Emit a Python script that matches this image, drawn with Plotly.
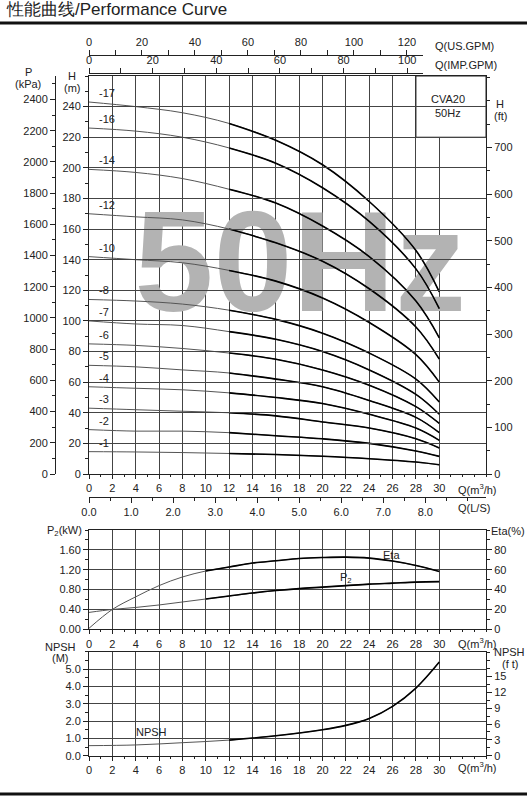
import plotly.graph_objects as go

# flow points (m3/h) and head curves (m) for each stage count
q = [0, 4, 8, 12, 16, 20, 24, 28, 30]
stages = ["-17", "-16", "-14", "-12", "-10", "-8", "-7", "-6", "-5", "-4", "-3", "-2", "-1"]
heads = [
    [243, 240, 236, 229, 218, 202, 178, 146, 119],
    [226, 224, 220, 213, 203, 187, 165, 134, 108],
    [199, 197, 193, 186, 177, 162, 142, 113, 89],
    [170, 168, 166, 160, 151, 139, 121, 96, 75],
    [142, 140, 138, 133, 126, 115, 99, 78, 60],
    [114, 113, 111, 107, 101, 92, 79, 62, 47],
    [100, 98, 97, 93, 88, 80, 68, 52, 39],
    [85, 84, 82, 79, 75, 68, 58, 44, 33],
    [71, 70, 68, 66, 62, 57, 48, 37, 27],
    [57, 56, 55, 53, 50, 46, 39, 30, 22],
    [43, 42, 41, 40, 38, 34, 30, 23, 17],
    [29, 28, 28, 27, 25, 23, 20, 15, 11.5],
    [14.6, 14.4, 14.0, 13.4, 12.7, 11.6, 10.0, 7.8, 6.0],
]

# power / efficiency
q2 = [0, 2, 4, 6, 8, 10, 12, 14, 16, 18, 20, 22, 24, 26, 28, 30]
eta = [1, 20, 32.7, 44, 52.7, 58.7, 62.7, 66.7, 69, 71.3, 72.3, 72.7, 71.7, 68.7, 64.3, 58.3]
p2 = [0.34, 0.40, 0.44, 0.49, 0.55, 0.61, 0.67, 0.73, 0.78, 0.82, 0.85, 0.88, 0.91, 0.93, 0.95, 0.96]

# NPSH
q3 = [0, 4, 8, 12, 16, 20, 22, 24, 26, 28, 30]
npsh = [0.58, 0.62, 0.75, 0.9, 1.15, 1.5, 1.75, 2.15, 2.85, 3.9, 5.4]

qticks = list(range(0, 31, 2))

FONT = "Liberation Sans, Arial, sans-serif"
X0, X1 = 89 / 527, 486 / 527
def py(p):
    return 1 - p / 800

fig = go.Figure()

# watermark under the curves
fig.add_trace(go.Scatter(x=[18.1], y=[130], mode="text", text=["<b>50Hz</b>"],
                         textfont=dict(size=142, color="#b3b3b3", family=FONT),
                         showlegend=False, hoverinfo="skip"))

def split(xs, ys, start):
    return [x for x in xs if x >= start], [y for x, y in zip(xs, ys) if x >= start]

for name, h in zip(stages, heads):
    fig.add_trace(go.Scatter(x=q, y=h, mode="lines", line=dict(color="#555", width=1, shape="spline"),
                             showlegend=False))
    tx, ty = split(q, h, 12)
    fig.add_trace(go.Scatter(x=tx, y=ty, mode="lines", line=dict(color="#000", width=1.6, shape="spline"),
                             showlegend=False))
    fig.add_annotation(x=0.7, y=h[0], text=name, showarrow=False, xanchor="left", yanchor="bottom",
                       yshift=1, font=dict(size=11, color="#222", family=FONT))

for ys, yax in [(eta, "y5"), (p2, "y4")]:
    fig.add_trace(go.Scatter(x=q2, y=ys, xaxis="x5", yaxis=yax, mode="lines",
                             line=dict(color="#555", width=1, shape="spline"), showlegend=False))
    tx, ty = split(q2, ys, 10)
    fig.add_trace(go.Scatter(x=tx, y=ty, xaxis="x5", yaxis=yax, mode="lines",
                             line=dict(color="#000", width=1.6, shape="spline"), showlegend=False))

fig.add_trace(go.Scatter(x=q3, y=npsh, xaxis="x6", yaxis="y6", mode="lines",
                         line=dict(color="#555", width=1, shape="spline"), showlegend=False))
tx, ty = split(q3, npsh, 12)
fig.add_trace(go.Scatter(x=tx, y=ty, xaxis="x6", yaxis="y6", mode="lines",
                         line=dict(color="#000", width=1.6, shape="spline"), showlegend=False))

# empty traces so the secondary scales get drawn
for xa, ya in [("x", "y2"), ("x", "y3"), ("x2", "y"), ("x3", "y"), ("x4", "y"), ("x5", "y5"), ("x6", "y7")]:
    fig.add_trace(go.Scatter(x=[0], y=[0], xaxis=xa, yaxis=ya, mode="markers",
                             marker=dict(opacity=0), showlegend=False, hoverinfo="skip"))

tick = dict(tickfont=dict(size=11, color="#222", family=FONT), linecolor="#222", tickcolor="#222",
            zeroline=False)
grid = dict(showgrid=True, gridcolor="#444", gridwidth=1)

main_dom = [py(474), py(76)]
fig.update_layout(
    width=527, height=800, margin=dict(l=0, r=0, t=0, b=0, autoexpand=False),
    plot_bgcolor="rgba(0,0,0,0)", paper_bgcolor="white", font=dict(family=FONT, color="#222"),
    xaxis=dict(domain=[X0, X1], range=[0, 34], tickvals=qticks, ticks="outside", ticklen=4,
               minor=dict(dtick=1, ticks="outside", ticklen=2), showline=True, mirror=True,
               anchor="y", **grid, **tick),
    yaxis=dict(domain=main_dom, range=[0, 260], tickvals=list(range(0, 241, 20)), ticks="outside",
               ticklen=5, minor=dict(dtick=10, ticks="outside", ticklen=3), showline=True, mirror=True,
               anchor="x", **grid, **tick),
    yaxis2=dict(overlaying="y", anchor="free", position=55 / 527, range=[0, 260 * 9.81],
                tickvals=list(range(0, 2401, 200)), ticks="outside", ticklen=5,
                minor=dict(dtick=100, ticks="outside", ticklen=3), showline=True, showgrid=False, **tick),
    yaxis3=dict(overlaying="y", side="right", anchor="x", range=[0, 260 * 3.281],
                tickvals=list(range(0, 701, 100)), ticks="outside", ticklen=5,
                minor=dict(dtick=50, ticks="outside", ticklen=3), showgrid=False, **tick),
    xaxis2=dict(domain=[X0, 423 / 527], anchor="free", position=py(55), side="top",
                range=[0, (423 - 89) / 11.667 / 0.2271], tickvals=list(range(0, 121, 20)),
                ticks="outside", ticklen=5, minor=dict(dtick=10, ticks="outside", ticklen=5),
                showline=True, showgrid=False, **tick),
    xaxis3=dict(domain=[X0, 423 / 527], anchor="free", position=py(73), side="top",
                range=[0, (423 - 89) / 11.667 / 0.2728], tickvals=list(range(0, 101, 20)),
                ticks="outside", ticklen=5, minor=dict(dtick=10, ticks="outside", ticklen=5),
                showline=True, showgrid=False, **tick),
    xaxis4=dict(domain=[X0, X1], anchor="free", position=py(497), range=[0, 34 / 3.6],
                tickvals=[0, 1, 2, 3, 4, 5, 6, 7, 8], ticktext=["0.0", "1.0", "2.0", "3.0", "4.0", "5.0", "6.0", "7.0", "8.0"],
                ticks="outside", ticklen=5, minor=dict(dtick=0.5, ticks="outside", ticklen=3),
                showline=True, showgrid=False, **tick),
    xaxis5=dict(domain=[X0, X1], range=[0, 34], tickvals=qticks, anchor="y4", ticks="outside", ticklen=4,
                minor=dict(dtick=1, ticks="outside", ticklen=2), showline=True, mirror=True, **grid, **tick),
    yaxis4=dict(domain=[py(629.3), py(530)], range=[0, 2.0], tickvals=[0, 0.4, 0.8, 1.2, 1.6],
                ticktext=["0.00", "0.40", "0.80", "1.20", "1.60"], anchor="x5", ticks="outside", ticklen=5,
                minor=dict(dtick=0.2, ticks="outside", ticklen=3), showline=True, mirror=True, **grid, **tick),
    yaxis5=dict(overlaying="y4", side="right", anchor="x5", range=[0, 100], tickvals=[0, 20, 40, 60, 80],
                ticks="outside", ticklen=5, minor=dict(dtick=10, ticks="outside", ticklen=3),
                showgrid=False, **tick),
    xaxis6=dict(domain=[X0, X1], range=[0, 34], tickvals=qticks, anchor="y6", ticks="outside", ticklen=4,
                minor=dict(dtick=1, ticks="outside", ticklen=2), showline=True, mirror=True, **grid, **tick),
    yaxis6=dict(domain=[py(755.7), py(651.7)], range=[0, 6], tickvals=[0, 1, 2, 3, 4, 5],
                ticktext=["0.0", "1.0", "2.0", "3.0", "4.0", "5.0"], anchor="x6", ticks="outside", ticklen=5,
                minor=dict(dtick=0.5, ticks="outside", ticklen=3), showline=True, mirror=True, **grid, **tick),
    yaxis7=dict(overlaying="y6", side="right", anchor="x6", range=[0, 6 * 3.281],
                tickvals=[0, 3, 6, 9, 12, 15], ticks="outside", ticklen=5,
                minor=dict(dtick=1.5, ticks="outside", ticklen=3), showgrid=False, **tick),
)

# model box in the top right corner, hides the grid there
fig.add_shape(type="rect", xref="x", yref="y", x0=28, x1=34, y0=220, y1=260, layer="between",
              fillcolor="white", line=dict(color="#222", width=1))
fig.add_shape(type="line", xref="paper", yref="paper", x0=0, x1=1, y0=py(23), y1=py(23),
              line=dict(color="#111", width=3))
fig.add_shape(type="line", xref="paper", yref="paper", x0=0, x1=1, y0=py(794), y1=py(794),
              line=dict(color="#111", width=3))

def note(px, pyy, text, size=11, anchor="center"):
    fig.add_annotation(xref="paper", yref="paper", x=px / 527, y=py(pyy), text=text, showarrow=False,
                       xanchor=anchor, yanchor="middle", font=dict(size=size, color="#222", family=FONT))

note(4, 10, "性能曲线/Performance Curve", 17, "left")
note(433, 46, "Q(US.GPM)", 11, "left")
note(433, 65, "Q(IMP.GPM)", 11, "left")
note(28, 72, "P", 11)
note(28, 84, "(kPa)", 11)
note(72, 76, "H", 11)
note(72, 88, "(m)", 11)
note(448, 99, "CVA20", 11)
note(448, 113, "50Hz", 11)
note(500, 104, "H", 11)
note(500, 116, "(ft)", 11)
note(456, 489, "Q(m<sup>3</sup>/h)", 11, "left")
note(456, 508, "Q(L/S)", 11, "left")
note(64, 531, "P<sub>2</sub>(kW)", 11)
note(527, 531, "Eta(%)", 11, "right")
note(391, 555, "Eta", 11)
note(346, 578, "P<sub>2</sub>", 11)
note(456, 643, "Q(m<sup>3</sup>/h)", 11, "left")
note(60, 647, "NPSH", 11)
note(60, 658, "(M)", 11)
note(527, 652, "NPSH", 11, "right")
note(510, 664, "(f t)", 11)
note(151, 732, "NPSH", 11)
note(456, 767, "Q(m<sup>3</sup>/h)", 11, "left")

fig.write_html("out.html", config={"displayModeBar": False},
               post_script="document.body.style.margin='0';")
